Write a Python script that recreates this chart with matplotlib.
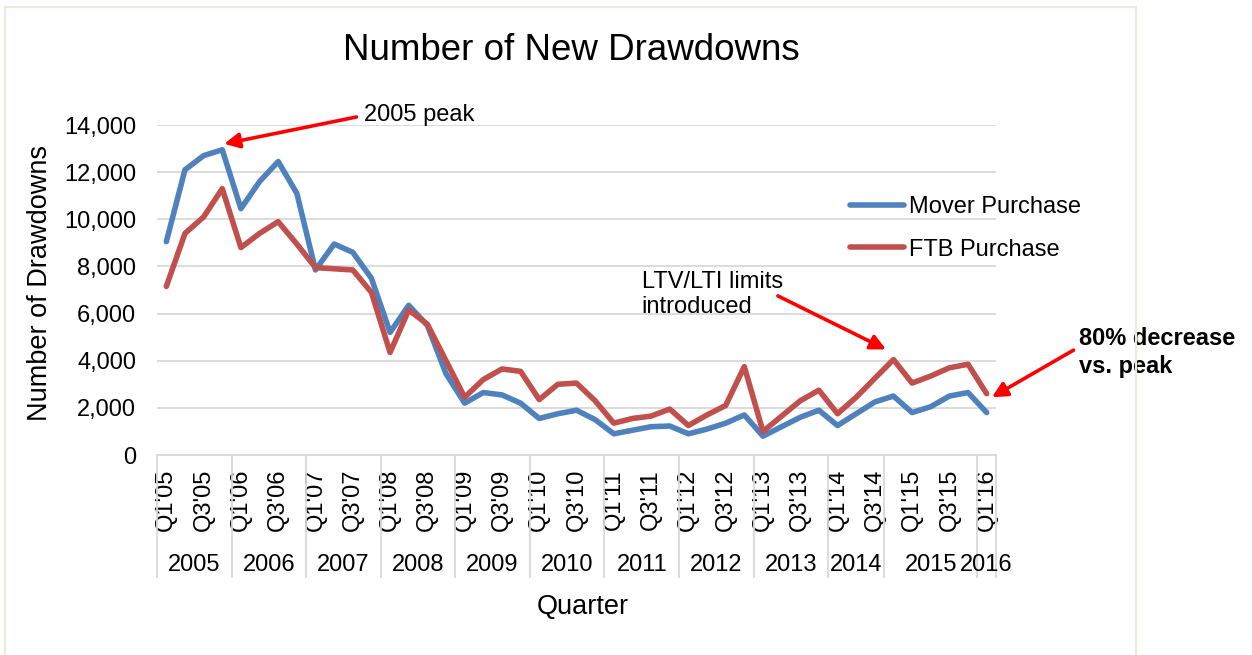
import matplotlib
matplotlib.use("Agg")
import matplotlib.pyplot as plt
import matplotlib.transforms as mtransforms
from matplotlib.patches import Rectangle
from matplotlib.ticker import FuncFormatter, MultipleLocator

plt.rcParams['font.family'] = ['Liberation Sans', 'DejaVu Sans']

# Quarterly series
quarters = [
    "Q1'05", "Q2'05", "Q3'05", "Q4'05",
    "Q1'06", "Q2'06", "Q3'06", "Q4'06",
    "Q1'07", "Q2'07", "Q3'07", "Q4'07",
    "Q1'08", "Q2'08", "Q3'08", "Q4'08",
    "Q1'09", "Q2'09", "Q3'09", "Q4'09",
    "Q1'10", "Q2'10", "Q3'10", "Q4'10",
    "Q1'11", "Q2'11", "Q3'11", "Q4'11",
    "Q1'12", "Q2'12", "Q3'12", "Q4'12",
    "Q1'13", "Q2'13", "Q3'13", "Q4'13",
    "Q1'14", "Q2'14", "Q3'14", "Q4'14",
    "Q1'15", "Q2'15", "Q3'15", "Q4'15",
    "Q1'16",
]

mover_purchase = [
    9050, 12100, 12700, 12950,
    10450, 11600, 12450, 11100,
    7850, 8950, 8600, 7500,
    5200, 6350, 5500, 3450,
    2200, 2650, 2550, 2200,
    1550, 1750, 1900, 1500,
    900, 1050, 1200, 1230,
    900, 1100, 1350, 1700,
    800, 1200, 1600, 1900,
    1250, 1750, 2250, 2500,
    1800, 2050, 2500, 2650,
    1800,
]

ftb_purchase = [
    7150, 9400, 10100, 11300,
    8800, 9400, 9900, 8950,
    7950, 7900, 7850, 6900,
    4350, 6150, 5550, 4000,
    2450, 3200, 3650, 3550,
    2350, 3000, 3050, 2300,
    1350, 1550, 1650, 1950,
    1250, 1700, 2100, 3750,
    1000, 1650, 2300, 2750,
    1750, 2450, 3250, 4050,
    3050, 3350, 3700, 3850,
    2600,
]

# Year groups on the second axis row (label, number of quarters)
year_groups = [
    ("2005", 4), ("2006", 4), ("2007", 4), ("2008", 4), ("2009", 4),
    ("2010", 4), ("2011", 4), ("2012", 4), ("2013", 4), ("2014", 3),
    ("2015", 5), ("2016", 1),
]

BLUE = "#4F81BD"
RED = "#C0504D"
GRID = "#D9D9D9"
ARROW = "#FF0000"

W, H = 1252, 655
fig = plt.figure(figsize=(W / 100, H / 100), dpi=100)
fig.patch.set_facecolor("white")

# outer chart border
fig.add_artist(Rectangle((5 / W, -0.02), 1131 / W, (H - 7) / H + 0.02,
                         transform=fig.transFigure, fill=False,
                         edgecolor="#EEEADF", linewidth=1.6))

ax = fig.add_axes([157 / W, 1 - 455 / H, (996 - 157) / W, (455 - 125) / H])

x = list(range(len(quarters)))
ax.plot(x, mover_purchase, color=BLUE, lw=4.0, label="Mover Purchase",
        solid_joinstyle="round", solid_capstyle="round", zorder=3)
ax.plot(x, ftb_purchase, color=RED, lw=4.0, label="FTB Purchase",
        solid_joinstyle="round", solid_capstyle="round", zorder=3)

ax.set_xlim(-0.5, len(quarters) - 0.5)
ax.set_ylim(0, 14000)
ax.yaxis.set_major_locator(MultipleLocator(2000))
ax.yaxis.set_major_formatter(FuncFormatter(lambda v, p: f"{int(v):,}"))
ax.grid(axis="y", color=GRID, lw=1.3)
ax.set_axisbelow(True)
for s in ("top", "right", "left"):
    ax.spines[s].set_visible(False)
ax.spines["bottom"].set_color(GRID)
ax.spines["bottom"].set_linewidth(1.3)

ax.tick_params(axis="y", length=0, pad=15, labelsize=17)
ax.set_xticks(x[::2])
ax.set_xticklabels(quarters[::2], rotation=90, va="top", ha="center")
ax.tick_params(axis="x", length=0, pad=10, labelsize=17)

# year row beneath the quarter labels
btrans = mtransforms.blended_transform_factory(ax.transData, ax.transAxes)
start = -0.5
ax.plot([start, start], [0, -0.37], transform=btrans, color=GRID, lw=1.3, clip_on=False)
for label, n in year_groups:
    end = start + n
    ax.plot([end, end], [0, -0.37], transform=btrans, color=GRID, lw=1.3, clip_on=False)
    ax.text((start + end) / 2, -0.333, label, transform=btrans, ha="center",
            va="center", fontsize=17)
    start = end

ax.text(0.507, -0.46, "Quarter", transform=ax.transAxes, ha="center",
        va="center", fontsize=19.5)
ax.text(-0.139, 0.52, "Number of Drawdowns", transform=ax.transAxes,
        rotation=90, ha="center", va="center", fontsize=19.5)

fig.text(571 / W, 1 - 50 / H, "Number of New Drawdowns", ha="center",
         va="center", fontsize=26.5)

ax.legend(loc="center left", bbox_to_anchor=(850 / W, 1 - 228.5 / H),
          bbox_transform=fig.transFigure, frameon=False, fontsize=17,
          handlelength=2.3, handletextpad=0.2, labelspacing=0.85,
          borderpad=0, borderaxespad=0)

# annotations
arrow_kw = dict(arrowstyle="-|>,head_length=0.9,head_width=0.45",
                color=ARROW, lw=2.6, shrinkA=0, shrinkB=0)
ax.annotate("", xy=(3.1, 13200), xytext=(10.2, 14340),
            arrowprops=arrow_kw, annotation_clip=False)
ax.text(10.6, 14430, "2005 peak", ha="left", va="center", fontsize=17,
        clip_on=False)

ax.annotate("", xy=(38.6, 4480), xytext=(32.8, 6750),
            arrowprops=arrow_kw, annotation_clip=False)
ax.text(25.5, 6800, "LTV/LTI limits\nintroduced", ha="left", va="center",
        fontsize=17, linespacing=1.2, clip_on=False)

ax.annotate("", xy=(44.28, 2450), xytext=(48.66, 4450),
            arrowprops=arrow_kw, annotation_clip=False)
ax.text(48.95, 4350, "80% decrease\nvs. peak", ha="left", va="center",
        fontsize=17, fontweight="bold", linespacing=1.3, clip_on=False)

fig.savefig("out.png", dpi=100, facecolor="white")
